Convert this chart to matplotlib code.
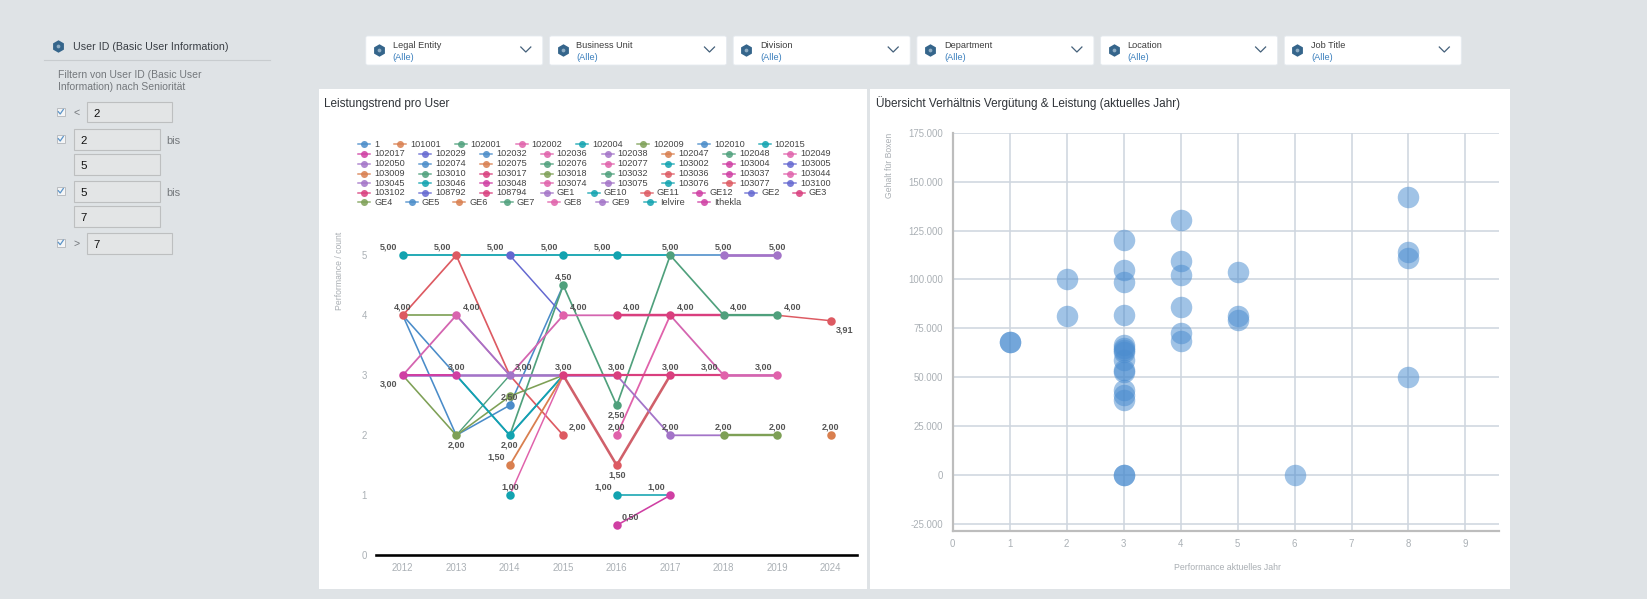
import matplotlib
matplotlib.use("Agg")
import matplotlib.pyplot as plt
from matplotlib.patches import Rectangle, FancyBboxPatch

W, H = 1647, 599
n = float("nan")
plt.rcParams["font.family"] = ["Liberation Sans", "DejaVu Sans"]

# palette used by the trend chart
blue, orange, green, pink = "#4a8cc9", "#d97f4f", "#4fa07c", "#e062ab"
teal, olive, magenta, indigo = "#12a3b0", "#7ea056", "#cf3fa3", "#6468d0"
purple, red, crimson = "#a374c8", "#dd5a62", "#d93f7e"

years = ["2012", "2013", "2014", "2015", "2016", "2017", "2018", "2019", "2024"]

# legend rows, colours are in the same order
legend_rows = [
    ["1", "101001", "102001", "102002", "102004", "102009", "102010", "102015"],
    ["102017", "102029", "102032", "102036", "102038", "102047", "102048", "102049"],
    ["102050", "102074", "102075", "102076", "102077", "103002", "103004", "103005"],
    ["103009", "103010", "103017", "103018", "103032", "103036", "103037", "103044"],
    ["103045", "103046", "103048", "103074", "103075", "103076", "103077", "103100"],
    ["103102", "108792", "108794", "GE1", "GE10", "GE11", "GE12", "GE2", "GE3"],
    ["GE4", "GE5", "GE6", "GE7", "GE8", "GE9", "Ielvire", "Ithekla"],
]
legend_colors = [
    [blue, orange, green, pink, teal, olive, blue, teal],
    [magenta, indigo, blue, pink, purple, orange, green, pink],
    [purple, blue, orange, green, pink, teal, magenta, indigo],
    [orange, green, crimson, olive, green, red, magenta, pink],
    [purple, teal, magenta, pink, purple, teal, red, indigo],
    [crimson, indigo, crimson, purple, teal, red, magenta, indigo, crimson],
    [olive, blue, orange, green, pink, purple, teal, magenta],
]

# performance per year, one list per visible line
blue_a = [4, 2, 2.5, 4.5, n, n, n, n, n]
blue_b = [4, 3, 2, 3, n, n, n, n, n]
blue_c = [n, n, n, n, n, 5, 5, n, n]
teal_a = [5, 5, 5, 5, 5, 5, n, n, n]
teal_b = [n, 3, 2, 3, n, n, n, n, n]
red_a = [4, 5, 3, 2, n, n, n, n, n]
indigo_a = [n, n, 5, 4, n, n, n, n, n]
olive_a = [4, 4, n, n, n, n, n, n, n]
olive_b = [3, 2, 2.65, 3, n, n, n, n, n]
olive_c = [n, n, n, n, n, n, 2, 2, n]
green_a = [n, 2, 3, 3, n, n, n, n, n]
green_b = [n, n, 2, 4.5, 2.5, 5, 4, 4, n]
rose_a = [3, 4, 3, 4, 4, 4, 3, 3, n]
rose_b = [n, n, 1, 3, n, n, n, n, n]
rose_c = [n, n, n, n, 2, 4, n, n, n]
orange_a = [n, n, 1.5, 3, n, n, n, n, n]
orange_b = [n, n, n, n, n, n, n, n, 2]
red_b = [n, n, n, 3, 1.5, 3, n, n, n]
purple_a = [n, 4, 3, n, n, n, n, n, n]
purple_b = [n, n, n, n, 3, 2, 2, n, n]
purple_c = [n, n, n, n, n, n, 5, 5, n]
purple_d = [3, 3, 3, 3, 3, n, n, n, n]
crimson_a = [n, n, n, n, 4, 4, 4, n, n]
crimson_b = [n, n, n, 3, 3, 3, 3, n, n]
magenta_a = [3, 3, n, n, n, n, n, n, n]
red_c = [n, n, n, n, n, n, n, 4, 3.91]
green_c = [n, n, n, n, n, n, 4, 4, n]
rose_d = [n, n, n, n, n, n, 3, 3, n]
teal_c = [n, n, n, n, 1, 1, n, n, n]
magenta_b = [n, n, n, n, 0.5, 1, n, n, n]

# (values, colour, line width px), bottom to top
trend_lines = [
    (blue_a, blue, 1.6), (blue_b, blue, 1.6), (blue_c, blue, 1.6), (teal_a, teal, 1.8),
    (red_a, red, 1.7), (indigo_a, indigo, 1.5), (olive_a, olive, 1.7), (green_a, green, 1.4),
    (olive_b, olive, 1.6), (teal_b, teal, 1.8), (green_b, green, 1.7), (purple_d, purple, 2.6),
    (rose_a, "#d465b0", 1.8), (purple_a, purple, 1.5), (rose_b, pink, 1.5), (rose_c, pink, 1.8),
    (orange_a, orange, 1.8), (orange_b, orange, 1.5), (red_b, "#d0606a", 2.6), (purple_b, purple, 1.8),
    (olive_c, olive, 2.4), (purple_c, purple, 2.8), (crimson_b, crimson, 2.2), (crimson_a, crimson, 2.4),
    (magenta_a, magenta, 2.0), (red_c, red, 1.5), (green_c, green, 2.2), (rose_d, "#d465b0", 2.6),
    (teal_c, teal, 1.6), (magenta_b, magenta, 1.6),
]

# value labels: (year index, value, text, dx px, dy px)
trend_labels = [
    (0, 5, "5,00", -14, -8), (1, 5, "5,00", -14, -8), (2, 5, "5,00", -14, -8), (3, 5, "5,00", -14, -8),
    (4, 5, "5,00", -14, -8), (5, 5, "5,00", 0, -8), (6, 5, "5,00", 0, -8), (7, 5, "5,00", 0, -8),
    (3, 4.5, "4,50", 0, -8),
    (0, 4, "4,00", 0, -8), (1, 4, "4,00", 15, -8), (3, 4, "4,00", 15, -8), (4, 4, "4,00", 15, -8),
    (5, 4, "4,00", 15, -8), (6, 4, "4,00", 15, -8), (7, 4, "4,00", 15, -8), (8, 3.91, "3,91", 14, 9),
    (0, 3, "3,00", -14, 9), (1, 3, "3,00", 0, -8), (2, 3, "3,00", 14, -8), (3, 3, "3,00", 0, -8),
    (4, 3, "3,00", 0, -8), (5, 3, "3,00", 0, -8), (6, 3, "3,00", -14, -8), (7, 3, "3,00", -14, -8),
    (2, 2.5, "2,50", 0, -8), (4, 2.5, "2,50", 0, 10),
    (1, 2, "2,00", 0, 10), (2, 2, "2,00", 0, 10), (3, 2, "2,00", 14, -8), (4, 2, "2,00", 0, -8),
    (5, 2, "2,00", 0, -8), (6, 2, "2,00", 0, -8), (7, 2, "2,00", 0, -8), (8, 2, "2,00", 0, -8),
    (2, 1.5, "1,50", -14, -8), (4, 1.5, "1,50", 0, 10),
    (2, 1, "1,00", 0, -8), (4, 1, "1,00", -14, -8), (5, 1, "1,00", -14, -8), (4, 0.5, "0,50", 14, -8),
]

# markers that sit on top at each point: (year index, value, colour)
top_markers = [
    (0, 5, teal), (1, 5, red), (2, 5, indigo), (3, 5, teal), (4, 5, teal), (5, 5, green), (6, 5, purple), (7, 5, purple),
    (3, 4.5, green), (0, 4, red), (1, 4, "#d965ae"), (3, 4, pink), (4, 4, crimson), (5, 4, crimson), (6, 4, green), (7, 4, green),
    (8, 3.91, red), (0, 3, magenta), (1, 3, magenta), (2, 3, purple), (3, 3, crimson), (4, 3, crimson), (5, 3, crimson),
    (6, 3, pink), (7, 3, pink), (2, 2.65, olive), (2, 2.5, blue), (4, 2.5, green), (1, 2, olive), (2, 2, teal), (3, 2, red),
    (4, 2, pink), (5, 2, purple), (6, 2, olive), (7, 2, olive), (8, 2, orange), (2, 1.5, orange), (4, 1.5, red),
    (2, 1, teal), (4, 1, teal), (5, 1, magenta), (4, 0.5, magenta),
]

# scatter: performance vs salary
perf = [1, 1, 2, 2, 3, 3, 3, 3, 3, 3, 3, 3, 3, 3, 3, 3, 3, 3, 3, 3,
        4, 4, 4, 4, 4, 4, 5, 5, 5, 6, 8, 8, 8, 8]
salary = [68000, 68000, 100400, 81200, 120200, 104900, 98600, 81900, 66700, 65000, 64100, 63000, 59000,
          53900, 52700, 43600, 41000, 38500, 0, 0,
          130600, 109300, 102500, 85800, 72700, 68400, 103700, 81500, 79500, 0, 142200, 114300, 111000, 50100]
perf_ticks = [0, 1, 2, 3, 4, 5, 6, 7, 8, 9]
salary_ticks = [-25000, 0, 25000, 50000, 75000, 100000, 125000, 150000, 175000]

filter_names = ["Legal Entity", "Business Unit", "Division", "Department", "Location", "Job Title"]


def px(size):
    return size * 0.72


def axes_px(fig, left, top, right, bottom):
    return fig.add_axes([left / W, 1 - bottom / H, (right - left) / W, (bottom - top) / H])


fig = plt.figure(figsize=(W / 100, H / 100), dpi=100, facecolor="#dfe3e6")

# page furniture in pixel coordinates
ui = fig.add_axes([0, 0, 1, 1])
ui.set_xlim(0, W)
ui.set_ylim(H, 0)
ui.axis("off")


def icon(x, y, s=12.5):
    ui.plot(x, y, "h", ms=px(s), color="#35658b", mec="none")
    ui.plot(x, y, "o", ms=px(s * 0.3), color="#8fadc4", mec="none")


ui.add_patch(Rectangle((319, 89), 548, 500, fc="white", ec="none"))
ui.add_patch(Rectangle((870, 89), 640, 500, fc="white", ec="none"))

for i, name in enumerate(filter_names):
    x0 = 365.8 + i * 183.7
    ui.add_patch(FancyBboxPatch((x0 + 2, 38), 173, 25, boxstyle="round,pad=2", fc="white", ec="#e6ebf0", lw=0.6))
    icon(x0 + 13, 49.7)
    ui.text(x0 + 27, 45, name, fontsize=px(9.2), color="#3d3d3d", va="center")
    ui.text(x0 + 27, 57, "(Alle)", fontsize=px(9.2), color="#3a7fbd", va="center")
    ui.plot([x0 + 155, x0 + 160, x0 + 165], [47, 52, 47], color="#44607a", lw=0.9)

# left filter column
icon(58, 46)
ui.text(72.7, 47, "User ID (Basic User Information)", fontsize=px(10.6), color="#3a3f45", va="center")
ui.plot([44, 270], [60.3, 60.3], color="#c8cccf", lw=0.8)
ui.text(58, 74.5, "Filtern von User ID (Basic User", fontsize=px(10.4), color="#74787c", va="center")
ui.text(58, 86.5, "Information) nach Seniorität", fontsize=px(10.4), color="#74787c", va="center")

for y in [112, 139, 191, 242.7]:
    ui.add_patch(Rectangle((56.7, y - 4), 8, 8, fc="#f4f5f6", ec="#b9bcc0", lw=0.7))
    ui.plot([58.3, 60.2, 63.3], [y - 0.3, y + 2, y - 2.5], color="#5b94c8", lw=0.9)

boxes = [(87.3, 102.3, 171.7, 122.3, "2", 97), (74, 129.3, 159.7, 150.3, "2", 84), (74, 154.3, 159.7, 174.7, "5", 84),
         (74, 181.3, 159.7, 202.3, "5", 84), (74, 206.3, 159.7, 226.7, "7", 84), (87.3, 233.3, 171.7, 254, "7", 97)]
for x0, y0, x1, y1, txt, tx in boxes:
    ui.add_patch(Rectangle((x0, y0), x1 - x0, y1 - y0, fc="#e3e5e6", ec="#bdbfc0", lw=0.8))
    ui.text(tx, (y0 + y1) / 2 + 1.5, txt, fontsize=px(11.5), color="#111111", ha="center", va="center")
ui.text(77, 112.5, "<", fontsize=px(10.5), color="#74787c", ha="center", va="center")
ui.text(77, 243.5, ">", fontsize=px(10.5), color="#74787c", ha="center", va="center")
ui.text(166, 141, "bis", fontsize=px(11), color="#74787c", va="center")
ui.text(166, 193, "bis", fontsize=px(11), color="#74787c", va="center")

ui.text(324.5, 103.5, "Leistungstrend pro User", fontsize=px(11.7), color="#2f3338", va="center")
ui.text(875.5, 103.5, "Übersicht Verhältnis Vergütung & Leistung (aktuelles Jahr)", fontsize=px(11.7), color="#2f3338", va="center")

# trend legend
row_y = [144.3, 154, 163.7, 173.5, 183.2, 192.6, 202.3]
row_x = {
    0: [364.3, 400, 460.7, 521.7, 582.3, 643, 704, 764.7],
    5: [364.3, 425.3, 486, 546.7, 594, 646.7, 699, 751.3, 798.7],
    6: [364.3, 411.7, 459.3, 506.7, 554, 601.7, 650, 704],
}
for r, (names, cols) in enumerate(zip(legend_rows, legend_colors)):
    xs = row_x.get(r, [364.3 + 60.8 * k for k in range(8)])
    for x, name, c in zip(xs, names, cols):
        ui.plot([x - 6, x + 6], [row_y[r], row_y[r]], color=c, lw=px(1.5), alpha=0.85)
        ui.plot(x, row_y[r], "o", ms=px(7), color=c, mec="none", alpha=0.85)
        ui.text(x + 10, row_y[r], name, fontsize=px(9.2), color="#444444", va="center")

# trend chart
ax = axes_px(fig, 376, 225, 857.5, 555.3)
ax.patch.set_alpha(0)
ax.set_xlim(-0.5, 8.5)
ax.set_ylim(0, 5.505)
pos = list(range(len(years)))
for vals, col, lw in trend_lines:
    ax.plot(pos, vals, color=col, lw=px(lw), solid_joinstyle="round", clip_on=False)
for i, v, c in top_markers:
    ax.plot(i, v, "o", ms=px(8.5), color=c, mec="none", clip_on=False)
for i, v, txt, dx, dy in trend_labels:
    ax.annotate(txt, (i, v), xytext=(px(dx), -px(dy)), textcoords="offset points", ha="center", va="center",
                fontsize=px(9), color="#555555", fontweight="bold")
ax.set_xticks(pos, years)
ax.set_yticks([0, 1, 2, 3, 4, 5])
ax.tick_params(axis="both", length=0, labelsize=px(9.6), labelcolor="#aab0b5")
ax.tick_params(axis="x", pad=px(7.5))
ax.tick_params(axis="y", pad=px(9))
for s in ("top", "right", "left"):
    ax.spines[s].set_visible(False)
ax.spines["bottom"].set_color("black")
ax.spines["bottom"].set_linewidth(px(2.6))
ui.text(339.5, 271, "Performance / count", rotation=90, fontsize=px(8.6), color="#a9aeb3", ha="center", va="center")

# scatter chart
sc = axes_px(fig, 952.8, 132.7, 1498.5, 530.7)
sc.patch.set_alpha(0)
sc.set_xlim(0, 9.58)
sc.set_ylim(-28350, 175000)
sc.set_axisbelow(True)
sc.grid(True, color="#cfd6df", lw=px(1.6))
sc.scatter(perf, salary, s=px(21.5) ** 2, color="#4a8ccf", alpha=0.52, linewidths=0, clip_on=False, zorder=3)
sc.set_xticks(perf_ticks)
sc.set_yticks(salary_ticks, [f"{v:,}".replace(",", ".") for v in salary_ticks])
sc.tick_params(axis="both", length=0, labelsize=px(9.6), labelcolor="#aab0b5")
sc.tick_params(axis="x", pad=px(8))
sc.tick_params(axis="y", pad=px(10))
for s in ("top", "right"):
    sc.spines[s].set_visible(False)
for s in ("left", "bottom"):
    sc.spines[s].set_color("#bdbdbd")
    sc.spines[s].set_linewidth(px(2.2))
ui.text(889, 165, "Gehalt für Boxen", rotation=90, fontsize=px(8.6), color="#a9aeb3", ha="center", va="center")
ui.text(1227, 567, "Performance aktuelles Jahr", fontsize=px(8.8), color="#a9aeb3", ha="center", va="center")

fig.savefig("out.png", dpi=100, facecolor=fig.get_facecolor())
